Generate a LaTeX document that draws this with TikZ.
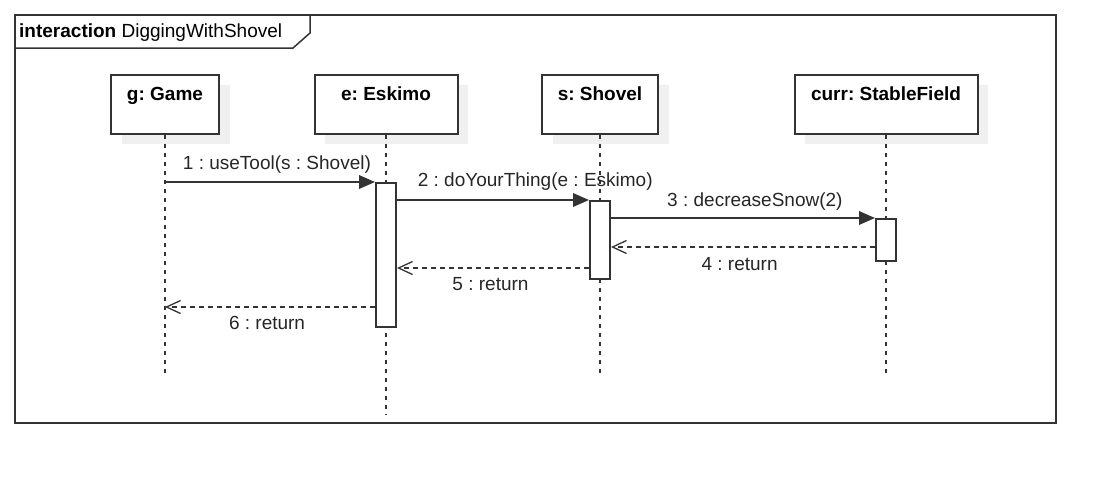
\documentclass[tikz,border=0pt]{standalone}
\usepackage{fontspec}
\setmainfont{Liberation Sans}
\usetikzlibrary{positioning,arrows.meta,shadows}
\definecolor{umlline}{HTML}{333333}
\frenchspacing
\begin{document}
\begin{tikzpicture}[x=1pt,y=-1pt,font=\fontsize{19}{23}\selectfont,%
	obj/.style={draw=umlline,line width=2pt,fill=white,minimum height=59pt,inner sep=0pt,
		drop shadow={shadow xshift=10.5pt,shadow yshift=-10.5pt,fill=black!6,opacity=1}},
	objlbl/.style={font=\fontsize{19}{23}\selectfont\bfseries,inner sep=0pt,text height=14pt,text depth=4pt},
	act/.style={draw=umlline,line width=2pt,fill=white,minimum width=20pt,inner sep=0pt},
	life/.style={umlline,line width=1.3pt,dash pattern=on 4pt off 5pt},
	call/.style={umlline,line width=2pt,-{Triangle[length=16pt,width=13.5pt]}},
	ret/.style={umlline,line width=1.3pt,dash pattern=on 5pt off 4pt,-{Straight Barb[length=14pt,width=13pt]}},
	msglbl/.style={text=black!85,inner sep=0pt,text height=14pt,text depth=4pt}]
				   
				   \useasboundingbox (0,0) rectangle (1116,483);
				   
				   \draw[umlline,line width=2pt] (15,15) rectangle (1056,423);
				   \draw[umlline,line width=1.5pt] (15,48) -- (293,48) -- (310,33) -- (310,15);
				   \node[anchor=base west,inner sep=0pt] (title) at (19,37) {\textbf{interaction} DiggingWithShovel};
				   %
				   \node[obj,minimum width=108pt] (game) at (165,104) {};
				   \node[obj,minimum width=143pt] (eskimo) at (386,104) {};
				   \node[obj,minimum width=116pt] (shovel) at (600,104) {};
				   \node[obj,minimum width=183pt] (field) at (886,104) {};
				   \node[objlbl,below=12.5pt of game.north] (gameL) {g: Game};
				   \node[objlbl,below=12.5pt of eskimo.north] (eskimoL) {e: Eskimo};
				   \node[objlbl,below=12.5pt of shovel.north] (shovelL) {s: Shovel};
				   \node[objlbl,below=12.5pt of field.north] (fieldL) {curr: StableField};
				   %
				   \coordinate (gameEnd) at (165,373);
				   \coordinate (eskimoEnd) at (386,415);
				   \coordinate (shovelEnd) at (600,373);
				   \coordinate (fieldEnd) at (886,373);
				   \draw[life] (game) -- (gameEnd);
				   \draw[life] (eskimo) -- (eskimoEnd);
				   \draw[life] (shovel) -- (shovelEnd);
				   \draw[life] (field) -- (fieldEnd);
				   %
				   \node[act,minimum height=144pt] (actE) at (386,255) {};
				   \node[act,minimum height=78pt] (actS) at (600,240) {};
				   \node[act,minimum height=42pt] (actF) at (886,240) {};
				   %
				   \draw[call] (game |- actE.north) -- node[msglbl,pos=0.533,above=8pt] (l1) {1 : useTool(s : Shovel)} (actE.north west);
				   \draw[call] (actE.east |- actS.north) -- node[msglbl,pos=0.72,above=9pt] (l2) {2 : doYourThing(e : Eskimo)} (actS.north west);
				   \draw[call] (actS.east |- actF.north) -- node[msglbl,pos=0.545,above=7pt] (l3) {3 : decreaseSnow(2)} (actF.north west);
				   %
				   \coordinate (r4) at ([yshift=-7pt]actF.west);
				   \coordinate (r5) at ([yshift=12pt]actS.south west);
				   \coordinate (r6) at ([yshift=21pt]actE.south west);
				   \draw[ret] (r4) -- node[msglbl,pos=0.513,below=9pt] (l4) {4 : return} (r4 -| actS.east);
				   \draw[ret] (r5) -- node[msglbl,pos=0.513,below=8pt] (l5) {5 : return} (r5 -| actE.east);
				   \draw[ret] (r6) -- node[msglbl,pos=0.514,below=7.5pt] (l6) {6 : return} (r6 -| game);
				   
				\end{tikzpicture}
\end{document}
